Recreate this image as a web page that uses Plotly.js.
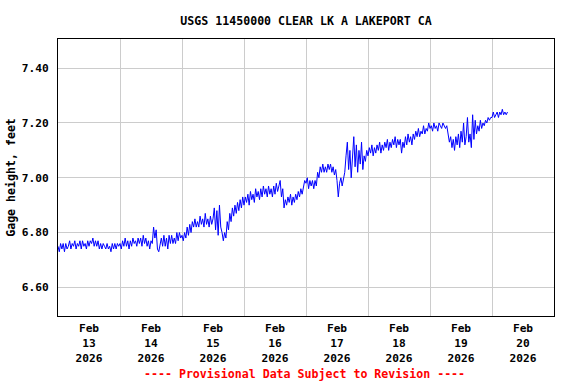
<!DOCTYPE html>
<html>
<head>
<meta charset="utf-8">
<script src="https://cdn.plot.ly/plotly-3.0.1.min.js"></script>
<style>
  html, body { margin: 0; padding: 0; background: #fff; }
  #chart { width: 576px; height: 384px; }
</style>
</head>
<body>
<div id="chart"></div>
<script>
// Gage height (feet), 30-minute readings starting 2026-02-13 00:00
const startDate = [2026, 1, 13];   // year, month index, day
const stepMinutes = 30;

const feb13 = [6.75, 6.73, 6.76, 6.74, 6.76, 6.73, 6.76, 6.74, 6.75, 6.77, 6.74, 6.76,
               6.75, 6.77, 6.74, 6.76, 6.75, 6.77, 6.74, 6.77, 6.75, 6.76, 6.74, 6.77,
               6.75, 6.77, 6.76, 6.78, 6.75, 6.77, 6.75, 6.77, 6.74, 6.76, 6.74, 6.76,
               6.75, 6.74, 6.76, 6.74, 6.75, 6.73, 6.76, 6.74, 6.76, 6.74, 6.76, 6.75];
const feb14 = [6.76, 6.74, 6.77, 6.75, 6.78, 6.75, 6.77, 6.74, 6.77, 6.75, 6.78, 6.76,
               6.77, 6.75, 6.78, 6.76, 6.78, 6.75, 6.79, 6.76, 6.78, 6.75, 6.77, 6.74,
               6.77, 6.76, 6.82, 6.78, 6.81, 6.74, 6.73, 6.76, 6.78, 6.75, 6.79, 6.75,
               6.78, 6.74, 6.79, 6.76, 6.79, 6.76, 6.78, 6.76, 6.80, 6.77, 6.80, 6.78];
const feb15 = [6.79, 6.77, 6.80, 6.78, 6.82, 6.79, 6.83, 6.80, 6.84, 6.82, 6.85, 6.82,
               6.84, 6.82, 6.86, 6.83, 6.85, 6.82, 6.87, 6.83, 6.85, 6.82, 6.86, 6.83,
               6.85, 6.89, 6.81, 6.88, 6.79, 6.90, 6.82, 6.80, 6.77, 6.80, 6.78, 6.84,
               6.81, 6.87, 6.84, 6.89, 6.86, 6.90, 6.87, 6.91, 6.88, 6.92, 6.89, 6.93];
const feb16 = [6.90, 6.93, 6.91, 6.94, 6.90, 6.95, 6.92, 6.94, 6.91, 6.96, 6.93, 6.95,
               6.92, 6.96, 6.93, 6.97, 6.94, 6.96, 6.93, 6.97, 6.94, 6.96, 6.93, 6.97,
               6.94, 6.98, 6.95, 6.97, 6.99, 6.93, 6.96, 6.89, 6.92, 6.90, 6.93, 6.91,
               6.94, 6.90, 6.93, 6.91, 6.94, 6.92, 6.95, 6.93, 6.96, 6.94, 6.97, 6.99];
const feb17 = [6.98, 7.00, 6.96, 6.99, 6.97, 6.99, 6.96, 6.99, 6.97, 7.02, 7.00, 7.04,
               7.02, 7.05, 7.02, 7.04, 7.02, 7.05, 7.03, 7.05, 7.02, 7.04, 7.01, 7.03,
               6.99, 6.93, 6.98, 7.00, 6.97, 7.00, 7.02, 7.08, 7.13, 7.03, 7.10, 7.00,
               7.09, 7.15, 7.04, 7.12, 7.02, 7.10, 7.05, 7.13, 7.03, 7.08, 7.06, 7.10];
const feb18 = [7.08, 7.11, 7.09, 7.12, 7.08, 7.11, 7.09, 7.12, 7.10, 7.13, 7.09, 7.12,
               7.10, 7.13, 7.11, 7.14, 7.10, 7.13, 7.11, 7.14, 7.12, 7.15, 7.11, 7.14,
               7.12, 7.14, 7.09, 7.13, 7.11, 7.15, 7.12, 7.16, 7.13, 7.15, 7.12, 7.16,
               7.14, 7.17, 7.15, 7.18, 7.15, 7.17, 7.16, 7.19, 7.16, 7.18, 7.17, 7.20];
const feb19 = [7.18, 7.19, 7.17, 7.20, 7.18, 7.19, 7.17, 7.20, 7.19, 7.18, 7.20, 7.19,
               7.18, 7.19, 7.16, 7.13, 7.15, 7.11, 7.14, 7.10, 7.15, 7.12, 7.16, 7.11,
               7.17, 7.13, 7.20, 7.12, 7.15, 7.22, 7.13, 7.16, 7.11, 7.23, 7.14, 7.21,
               7.16, 7.19, 7.17, 7.21, 7.18, 7.20, 7.19, 7.21, 7.20, 7.22, 7.21, 7.22];
const feb20 = [7.22, 7.24, 7.22, 7.23, 7.24, 7.22, 7.24, 7.23, 7.25, 7.23, 7.24, 7.23, 7.24];

const tickDays   = ['2026-02-13', '2026-02-14', '2026-02-15', '2026-02-16',
                    '2026-02-17', '2026-02-18', '2026-02-19', '2026-02-20'];
const tickLabels = ['Feb<br>13<br>2026', 'Feb<br>14<br>2026', 'Feb<br>15<br>2026', 'Feb<br>16<br>2026',
                    'Feb<br>17<br>2026', 'Feb<br>18<br>2026', 'Feb<br>19<br>2026', 'Feb<br>20<br>2026'];
const yTicks = [6.60, 6.80, 7.00, 7.20, 7.40];

const chartTitle = 'USGS 11450000 CLEAR LK A LAKEPORT CA';
const yTitle = 'Gage height, feet';
const footNote = '---- Provisional Data Subject to Revision ----';

// ---- build ----
const gage = [].concat(feb13, feb14, feb15, feb16, feb17, feb18, feb19, feb20);
const t0 = Date.UTC(startDate[0], startDate[1], startDate[2]);
const times = gage.map((_, i) => t0 + i * stepMinutes * 60000);
const tickNoon = tickDays.map(d => d + ' 12:00');

const mono = '"DejaVu Sans Mono", "Liberation Mono", monospace';

const trace = {
  type: 'scatter',
  mode: 'lines',
  x: times,
  y: gage,
  line: { color: '#0000ff', width: 1 },
  hoverinfo: 'skip'
};

const layout = {
  width: 576,
  height: 384,
  margin: { l: 58, r: 22, t: 39, b: 68, pad: 0 },
  paper_bgcolor: '#ffffff',
  plot_bgcolor: '#ffffff',
  showlegend: false,
  title: {
    text: chartTitle,
    font: { family: mono, size: 11.6, color: '#000', weight: 'bold' },
    x: 0.5, xref: 'paper', xanchor: 'center',
    y: 1 - 20.5 / 384, yref: 'container', yanchor: 'middle'
  },
  xaxis: {
    type: 'date',
    range: ['2026-02-13 00:00', '2026-02-21 00:00'],
    tickmode: 'array',
    tickvals: tickNoon,
    ticktext: tickLabels,
    ticks: '',
    ticklabelstandoff: 2,
    showgrid: false,
    minor: { tick0: '2026-02-13', dtick: 86400000, showgrid: true, gridcolor: '#cccccc', gridwidth: 1, ticks: '' },
    showline: true, mirror: true, linecolor: '#000', linewidth: 1,
    zeroline: false,
    tickfont: { family: mono, size: 11.2, color: '#000', weight: 'bold' },
    fixedrange: true
  },
  yaxis: {
    range: [6.4955, 7.5065],
    tickmode: 'array',
    tickvals: yTicks,
    tickformat: '.2f',
    ticks: '',
    ticklabelstandoff: 6,
    showgrid: true, gridcolor: '#cccccc', gridwidth: 1,
    showline: true, mirror: true, linecolor: '#000', linewidth: 1,
    zeroline: false,
    tickfont: { family: mono, size: 11.2, color: '#000', weight: 'bold' },
    title: { text: yTitle, standoff: 3, font: { family: mono, size: 11.6, color: '#000', weight: 'bold' } },
    fixedrange: true
  },
  annotations: [{
    text: footNote,
    xref: 'paper', yref: 'paper',
    x: 0.496, y: -(374 - 316) / 277,
    xanchor: 'center', yanchor: 'middle',
    showarrow: false,
    font: { family: mono, size: 11.6, color: '#ff0000', weight: 'bold' }
  }]
};

Plotly.newPlot('chart', [trace], layout, { displayModeBar: false, staticPlot: true });
</script>
</body>
</html>
